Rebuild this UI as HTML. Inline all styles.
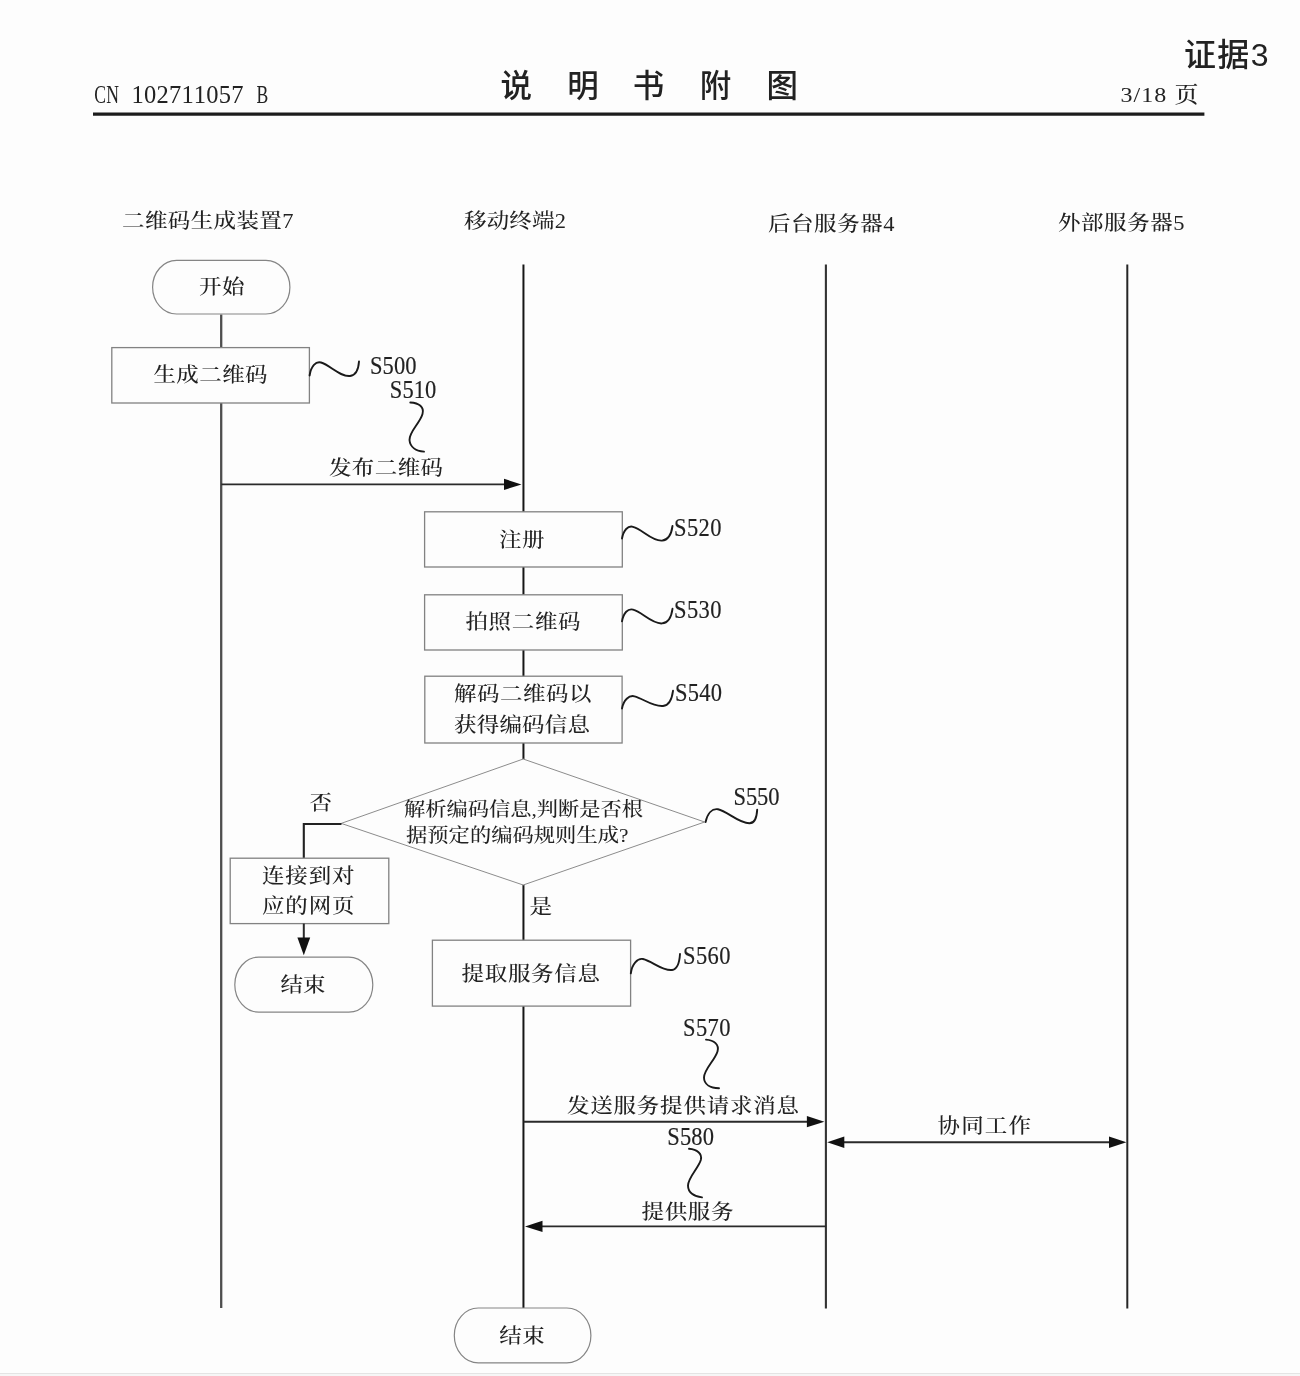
<!DOCTYPE html>
<html lang="zh-CN">
<head>
<meta charset="utf-8">
<title>说明书附图</title>
<style>
html,body{margin:0;padding:0;background:#fdfdfd;}
body{width:1300px;height:1376px;overflow:hidden;position:relative;}
svg{position:absolute;left:0;top:0;display:block;filter:blur(0.4px);}
text{fill:#222;white-space:pre;}
.serif{font-family:"Liberation Serif", "Noto Serif CJK SC", serif;}
.sans{font-family:"Liberation Sans", "Noto Sans CJK SC", sans-serif;}
.edge{position:absolute;left:0;top:1373px;width:1300px;height:3px;background:#f6f6f6;border-top:1px solid #e4e4e4;box-sizing:border-box;}
</style>
</head>
<body>
<svg width="1300" height="1376" viewBox="0 0 1300 1376">
<text transform="translate(94.35,103) scale(0.72,1)" x="0 16.65" font-size="24.5" class="serif" fill="#2b2b2b">CN</text>
<text y="103" font-size="24.5" class="serif" fill="#2b2b2b" x="131.52 143.99 156.46 168.93 181.4 193.87 206.34 218.81 231.28">102711057</text>
<text transform="translate(256.46,103) scale(0.72,1)" font-size="24.5" class="serif" fill="#2b2b2b">B</text>
<text y="97" font-size="31.5" class="sans" font-weight="500" fill="#111" text-anchor="middle" x="516.2 549.5 582.9 615.7 648.5 682 715.4 748.8 782.2">说 明 书 附 图</text>
<text x="1184" y="66.3" font-size="32" class="sans" textLength="84.5" lengthAdjust="spacing" font-weight="500" fill="#161616">证据3</text>
<text transform="translate(1120.5,102.1) scale(1,0.915)" font-size="24" class="serif" textLength="78" lengthAdjust="spacing" font-weight="500">3/18 页</text>
<line x1="93" y1="114.1" x2="1204.4" y2="114.1" stroke="#1c1c1c" stroke-width="3.3"/>
<text transform="translate(122,227.8) scale(1,0.915)" font-size="22.5" class="serif" textLength="171.5" lengthAdjust="spacing" font-weight="500">二维码生成装置7</text>
<text transform="translate(464,228.3) scale(1,0.915)" font-size="22.5" class="serif" textLength="102" lengthAdjust="spacing" font-weight="500">移动终端2</text>
<text transform="translate(768,230.8) scale(1,0.915)" font-size="22.5" class="serif" textLength="126.5" lengthAdjust="spacing" font-weight="500">后台服务器4</text>
<text transform="translate(1058,230.3) scale(1,0.915)" font-size="22.5" class="serif" textLength="126.5" lengthAdjust="spacing" font-weight="500">外部服务器5</text>
<line x1="221.2" y1="314.4" x2="221.2" y2="1308" stroke="#4e4e4e" stroke-width="2.3"/>
<line x1="523.45" y1="264.5" x2="523.45" y2="1308" stroke="#161616" stroke-width="2.0"/>
<line x1="825.9" y1="264.5" x2="825.9" y2="1308.6" stroke="#333" stroke-width="2.1"/>
<line x1="1127.3" y1="264.5" x2="1127.3" y2="1308.6" stroke="#262626" stroke-width="2.0"/>
<rect x="152.6" y="260.4" width="137.3" height="53.6" fill="none" stroke="#858585" stroke-width="1.2" rx="24" ry="26.8"/>
<text transform="translate(199,293.8) scale(1,0.915)" font-size="22.5" class="serif" textLength="45.5" lengthAdjust="spacing" font-weight="500">开始</text>
<rect x="111.8" y="347.6" width="197.6" height="55.4" fill="#fdfdfd" stroke="none"/>
<rect x="111.8" y="347.6" width="197.6" height="55.4" fill="none" stroke="#828282" stroke-width="1.3"/>
<text transform="translate(153.5,381.8) scale(1,0.915)" font-size="22.5" class="serif" textLength="114" lengthAdjust="spacing" font-weight="500">生成二维码</text>
<path d="M309.6,375.5 C311,366 316,361 321,362.5 C330,365 340,377 350,376 C356,375.3 358.5,369 359,361.5" fill="none" stroke="#1a1a1a" stroke-width="1.9" stroke-linecap="round" stroke-linejoin="round"/>
<text transform="translate(370,373.5) scale(1,1.09)" font-size="22.5" class="serif" textLength="46.5" lengthAdjust="spacing" stroke="#222" stroke-width="0.15">S500</text>
<text transform="translate(389.8,398.3) scale(1,1.09)" font-size="22.5" class="serif" textLength="46.5" lengthAdjust="spacing" stroke="#222" stroke-width="0.15">S510</text>
<path d="M410.3,402.5 C419,403 424.5,407 422.5,414 C420,423 409,432 409.5,440 C410,447 416,451 424,451.6" fill="none" stroke="#1a1a1a" stroke-width="1.9" stroke-linecap="round" stroke-linejoin="round"/>
<text transform="translate(329,475.3) scale(1,0.915)" font-size="22.5" class="serif" textLength="114" lengthAdjust="spacing" font-weight="500">发布二维码</text>
<line x1="221.3" y1="484.4" x2="506.0" y2="484.4" stroke="#2a2a2a" stroke-width="1.9"/>
<polygon points="521.5,484.4 504.0,478.79999999999995 504.0,490.0" fill="#111"/>
<rect x="424.6" y="511.8" width="197.7" height="55.2" fill="#fdfdfd" stroke="none"/>
<rect x="424.6" y="511.8" width="197.7" height="55.2" fill="none" stroke="#828282" stroke-width="1.3"/>
<text transform="translate(499,546.5) scale(1,0.915)" font-size="22.5" class="serif" textLength="45.5" lengthAdjust="spacing" font-weight="500">注册</text>
<path d="M622,538.5 C623.5,530 628,525.5 633,526.8 C642,529 652,541.5 662,540.6 C668.5,540 671.5,533.5 672.5,526" fill="none" stroke="#1a1a1a" stroke-width="1.9" stroke-linecap="round" stroke-linejoin="round"/>
<text transform="translate(674,535.6) scale(1,1.09)" font-size="22.5" class="serif" textLength="47.5" lengthAdjust="spacing" stroke="#222" stroke-width="0.15">S520</text>
<rect x="424.6" y="594.8" width="197.7" height="55.2" fill="#fdfdfd" stroke="none"/>
<rect x="424.6" y="594.8" width="197.7" height="55.2" fill="none" stroke="#828282" stroke-width="1.3"/>
<text transform="translate(465.5,628.5) scale(1,0.915)" font-size="22.5" class="serif" textLength="115" lengthAdjust="spacing" font-weight="500">拍照二维码</text>
<path d="M622,621.3 C623.5,612.8 628,608.3 633,609.6 C642,611.8 652,624.3 662,623.4 C668.5,622.8 671.5,616.3 672.5,608.8" fill="none" stroke="#1a1a1a" stroke-width="1.9" stroke-linecap="round" stroke-linejoin="round"/>
<text transform="translate(674,618.3) scale(1,1.09)" font-size="22.5" class="serif" textLength="47.5" lengthAdjust="spacing" stroke="#222" stroke-width="0.15">S530</text>
<rect x="424.8" y="676.2" width="197.3" height="66.8" fill="#fdfdfd" stroke="none"/>
<rect x="424.8" y="676.2" width="197.3" height="66.8" fill="none" stroke="#828282" stroke-width="1.3"/>
<text transform="translate(454,701.1) scale(1,0.915)" font-size="22.5" class="serif" textLength="137.5" lengthAdjust="spacing" font-weight="500">解码二维码以</text>
<text transform="translate(454,732.3) scale(1,0.915)" font-size="22.5" class="serif" textLength="136" lengthAdjust="spacing" font-weight="500">获得编码信息</text>
<path d="M622,708.5 C623.5,700 629,695 634.5,696.3 C643,698.5 653,707 663,706 C669.5,705.3 672,698.5 673,690.8" fill="none" stroke="#1a1a1a" stroke-width="1.9" stroke-linecap="round" stroke-linejoin="round"/>
<text transform="translate(675,700.5) scale(1,1.09)" font-size="22.5" class="serif" textLength="47" lengthAdjust="spacing" stroke="#222" stroke-width="0.15">S540</text>
<polygon points="523.2,759 704.6,822 523.2,885 341.2,823.4" fill="#fdfdfd" stroke="#8c8c8c" stroke-width="1.0"/>
<text transform="translate(404,815.6) scale(1,0.915)" font-size="21.3" class="serif" textLength="239" lengthAdjust="spacing" font-weight="500">解析编码信息,判断是否根</text>
<text transform="translate(406,841.8) scale(1,0.915)" font-size="21.3" class="serif" textLength="222.5" lengthAdjust="spacing" font-weight="500">据预定的编码规则生成?</text>
<path d="M705.6,822 C707.5,813.5 712,808.3 718,809.3 C727,811 739,823.5 749.5,823.3 C755,823.2 756.8,817 757.2,809.6" fill="none" stroke="#1a1a1a" stroke-width="1.9" stroke-linecap="round" stroke-linejoin="round"/>
<text transform="translate(733.5,804.5) scale(1,1.09)" font-size="22.5" class="serif" textLength="46" lengthAdjust="spacing" stroke="#222" stroke-width="0.15">S550</text>
<text transform="translate(309.5,810.1) scale(1,0.915)" font-size="22.5" class="serif" font-weight="500">否</text>
<text transform="translate(529.5,914.1) scale(1,0.915)" font-size="22.5" class="serif" font-weight="500">是</text>
<path d="M341.5,824 L303.8,824 L303.8,858.2" fill="none" stroke="#222" stroke-width="2.1" stroke-linejoin="miter"/>
<rect x="230.2" y="858.2" width="158.6" height="65.4" fill="#fdfdfd" stroke="none"/>
<rect x="230.2" y="858.2" width="158.6" height="65.4" fill="none" stroke="#828282" stroke-width="1.3"/>
<text transform="translate(262,882.8) scale(1,0.915)" font-size="22.5" class="serif" textLength="92.5" lengthAdjust="spacing" font-weight="500">连接到对</text>
<text transform="translate(262,913.3) scale(1,0.915)" font-size="22.5" class="serif" textLength="92.5" lengthAdjust="spacing" font-weight="500">应的网页</text>
<line x1="303.8" y1="923.6" x2="303.8" y2="940" stroke="#2a2a2a" stroke-width="2.0"/>
<polygon points="303.8,955.3 297.4,937.5 310.2,937.5" fill="#111"/>
<rect x="234.8" y="957.2" width="138" height="55" rx="24" ry="27.5" fill="#fdfdfd" stroke="#858585" stroke-width="1.2"/>
<text transform="translate(280.5,991.8) scale(1,0.915)" font-size="22.5" class="serif" textLength="45" lengthAdjust="spacing" font-weight="500">结束</text>
<rect x="432.4" y="940.2" width="198.2" height="65.9" fill="#fdfdfd" stroke="none"/>
<rect x="432.4" y="940.2" width="198.2" height="65.9" fill="none" stroke="#828282" stroke-width="1.3"/>
<text transform="translate(461.5,980.8) scale(1,0.915)" font-size="22.5" class="serif" textLength="138.5" lengthAdjust="spacing" font-weight="500">提取服务信息</text>
<path d="M630.8,973.3 C632,964 637.5,958 643,959 C652,961 662,971 672,970 C677.5,969.3 679.5,962 680,954" fill="none" stroke="#1a1a1a" stroke-width="1.9" stroke-linecap="round" stroke-linejoin="round"/>
<text transform="translate(683,963.7) scale(1,1.09)" font-size="22.5" class="serif" textLength="47.5" lengthAdjust="spacing" stroke="#222" stroke-width="0.15">S560</text>
<text transform="translate(683,1036.2) scale(1,1.09)" font-size="22.5" class="serif" textLength="47.5" lengthAdjust="spacing" stroke="#222" stroke-width="0.15">S570</text>
<path d="M706,1039.6 C714,1040.2 719.5,1044.5 717.5,1051.5 C715,1060 704,1069.5 704,1077.5 C704,1084.5 710.5,1088 719,1088.3" fill="none" stroke="#1a1a1a" stroke-width="1.9" stroke-linecap="round" stroke-linejoin="round"/>
<text transform="translate(567,1112.6) scale(1,0.915)" font-size="22.5" class="serif" textLength="232" lengthAdjust="spacing" font-weight="500">发送服务提供请求消息</text>
<line x1="523.6" y1="1121.7" x2="808.9" y2="1121.7" stroke="#2a2a2a" stroke-width="1.9"/>
<polygon points="824.4,1121.7 806.9,1116.1000000000001 806.9,1127.3" fill="#111"/>
<text transform="translate(667.3,1144.8) scale(1,1.09)" font-size="22.5" class="serif" textLength="46.7" lengthAdjust="spacing" stroke="#222" stroke-width="0.15">S580</text>
<path d="M689,1148.8 C697,1149.4 702.5,1153.5 700.8,1160 C698.5,1168 688,1177.5 688,1185.5 C688,1192.5 694,1196.8 702,1197.4" fill="none" stroke="#1a1a1a" stroke-width="1.9" stroke-linecap="round" stroke-linejoin="round"/>
<text transform="translate(641.5,1219.4) scale(1,0.915)" font-size="22.5" class="serif" textLength="92" lengthAdjust="spacing" font-weight="500">提供服务</text>
<line x1="540.5" y1="1226.4" x2="826.2" y2="1226.4" stroke="#2a2a2a" stroke-width="1.9"/>
<polygon points="525,1226.4 542.5,1220.8000000000002 542.5,1232.0" fill="#111"/>
<line x1="842" y1="1142.3" x2="1112" y2="1142.3" stroke="#2a2a2a" stroke-width="1.9"/>
<polygon points="827.2,1142.3 844.3,1136.5 844.3,1148.1" fill="#111"/>
<polygon points="1126.4,1142.3 1109,1136.5 1109,1148.1" fill="#111"/>
<text transform="translate(937.5,1132.6) scale(1,0.915)" font-size="22.5" class="serif" textLength="93.5" lengthAdjust="spacing" font-weight="500">协同工作</text>
<rect x="454.3" y="1308" width="136.6" height="54.8" rx="24" ry="27.4" fill="#fdfdfd" stroke="#858585" stroke-width="1.2"/>
<text transform="translate(499.3,1343.1) scale(1,0.915)" font-size="22.5" class="serif" textLength="45.5" lengthAdjust="spacing" font-weight="500">结束</text>
</svg>
<div class="edge"></div>
</body>
</html>
